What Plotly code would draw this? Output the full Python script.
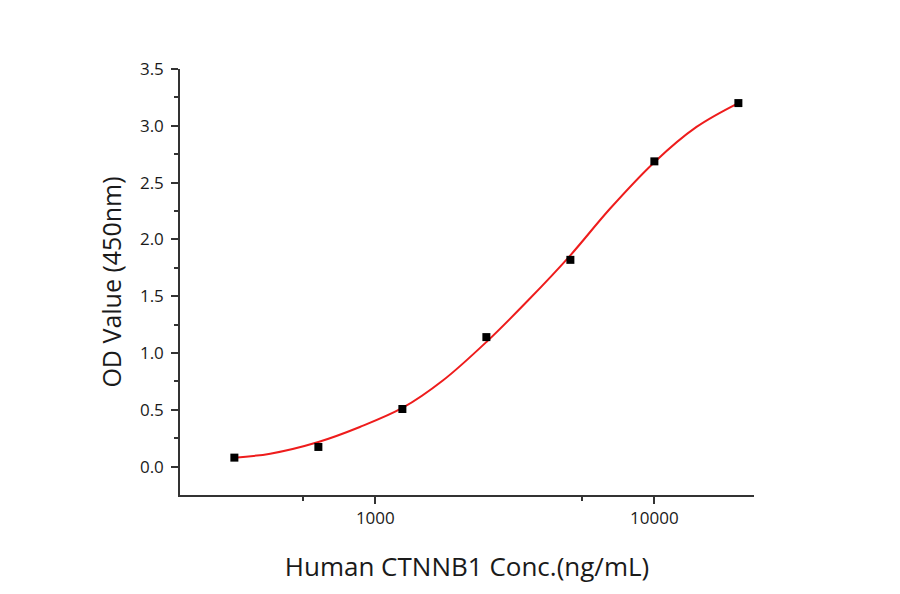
import plotly.graph_objects as go

# measured standards
conc = [312.5, 625, 1250, 2500, 5000, 10000, 20000]
od = [0.079, 0.173, 0.507, 1.14, 1.82, 2.687, 3.20]

# fitted curve
fit_conc = [312.5, 420, 625, 880, 1250, 1750, 2500, 3530, 5000, 6930, 10000, 14160, 20000]
fit_od = [0.079, 0.114, 0.217, 0.349, 0.516, 0.76, 1.097, 1.464, 1.86, 2.27, 2.68, 2.99, 3.20]

x_tickvals = [1000, 10000]
x_ticktext = ["1000", "10000"]
x_minorvals = [550, 5500]
y_tickvals = [0.0, 0.5, 1.0, 1.5, 2.0, 2.5, 3.0, 3.5]
y_ticktext = ["0.0", "0.5", "1.0", "1.5", "2.0", "2.5", "3.0", "3.5"]
y_minorvals = [0.25, 0.75, 1.25, 1.75, 2.25, 2.75, 3.25]

FONT = "Open Sans"
AX = "#333333"

fig = go.Figure()
fig.add_trace(go.Scatter(
    x=fit_conc, y=fit_od, mode="lines",
    line=dict(color="#ee1c1c", width=2, shape="spline", smoothing=1.0),
    hoverinfo="skip", showlegend=False))
fig.add_trace(go.Scatter(
    x=conc, y=od, mode="markers",
    marker=dict(symbol="square", size=8, color="black"),
    showlegend=False))

fig.update_layout(
    width=900, height=594,
    margin=dict(l=172, r=154, t=61, b=107),
    paper_bgcolor="white", plot_bgcolor="white",
    font=dict(family=FONT, color="#1a1a1a"),
    xaxis=dict(
        type="log", range=[2.3, 4.357],
        tickvals=x_tickvals, ticktext=x_ticktext,
        ticks="outside", ticklen=7, tickwidth=1.5, tickcolor=AX,
        minor=dict(tickvals=x_minorvals, ticks="outside", ticklen=4,
                   tickwidth=1.5, tickcolor=AX),
        showline=True, linecolor=AX, linewidth=1.5,
        showgrid=False, zeroline=False,
        tickfont=dict(size=17, family=FONT),
        title=dict(text="Human CTNNB1 Conc.(ng/mL)", font=dict(size=26, family=FONT),
                   standoff=30),
    ),
    yaxis=dict(
        range=[-0.25, 3.5],
        tickvals=y_tickvals, ticktext=y_ticktext,
        ticks="outside", ticklen=7, tickwidth=1.5, tickcolor=AX,
        ticklabelstandoff=4,
        minor=dict(tickvals=y_minorvals,
                   ticks="outside", ticklen=4, tickwidth=1.5, tickcolor=AX),
        showline=True, linecolor=AX, linewidth=1.5,
        showgrid=False, zeroline=False,
        tickfont=dict(size=17, family=FONT),
        title=dict(text="OD Value (450nm)", font=dict(size=25, family=FONT),
                   standoff=11),
    ),
)

fig.write_html("out.html")
